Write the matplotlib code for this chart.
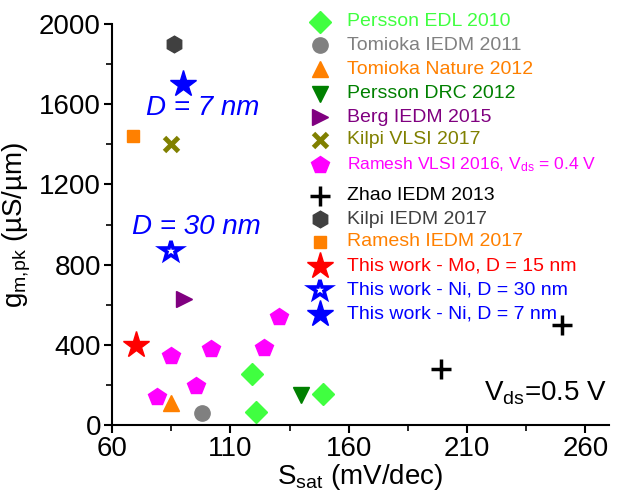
import matplotlib
matplotlib.use("Agg")
import matplotlib.pyplot as plt
from matplotlib.markers import MarkerStyle

plt.rcParams['font.family'] = ['Liberation Sans', 'DejaVu Sans']
plt.rcParams['mathtext.fontset'] = 'custom'
plt.rcParams['mathtext.rm'] = 'Liberation Sans'
plt.rcParams['mathtext.it'] = 'Liberation Sans:italic'

# ---- data ----
persson_edl_x = [119, 121, 149]
persson_edl_y = [255, 66, 155]
tomioka_iedm_x = [98]
tomioka_iedm_y = [60]
tomioka_nature_x = [85]
tomioka_nature_y = [108]
persson_drc_x = [140]
persson_drc_y = [150]
berg_x = [90.5]
berg_y = [630]
kilpi_vlsi_x = [85]
kilpi_vlsi_y = [1400]
ramesh_vlsi_x = [79, 85, 95.6, 102, 124.4, 130.5]
ramesh_vlsi_y = [138, 344, 196, 378, 383, 540]
zhao_x = [199, 250]
zhao_y = [280, 500]
kilpi_iedm_x = [86]
kilpi_iedm_y = [1900]
ramesh_iedm_x = [69]
ramesh_iedm_y = [1440]
mo15_x = [70]
mo15_y = [400]
ni30_x = [85]
ni30_y = [870]
ni7_x = [90]
ni7_y = [1700]

x_ticks = [60, 110, 160, 210, 260]
y_ticks = [0, 400, 800, 1200, 1600, 2000]

labels = ["Persson EDL 2010", "Tomioka IEDM 2011", "Tomioka Nature 2012",
          "Persson DRC 2012", "Berg IEDM 2015", "Kilpi VLSI 2017",
          r"Ramesh VLSI 2016, V$_{\rm ds}$ = 0.4 V", "Zhao IEDM 2013",
          "Kilpi IEDM 2017", "Ramesh IEDM 2017", "This work - Mo, D = 15 nm",
          "This work - Ni, D = 30 nm", "This work - Ni, D = 7 nm"]

star_m = MarkerStyle('*', joinstyle='miter')
styles = [
    dict(marker='D', color='#40ff40', ms=11),
    dict(marker='o', color='#808080', ms=11),
    dict(marker='^', color='#ff8000', ms=12),
    dict(marker='v', color='#008000', ms=12),
    dict(marker='>', color='#800080', ms=12),
    dict(marker='x', color='#808000', ms=10, mew=3.5),
    dict(marker='p', color='#ff00ff', ms=13),
    dict(marker='+', color='#000000', ms=14, mew=2.5),
    dict(marker='h', color='#404040', ms=12),
    dict(marker='s', color='#ff8000', ms=9),
    dict(marker='*', color='#ff0000', ms=20),
    dict(marker=star_m, color='#0000ff', ms=14.5, mfc='white', mew=2.6),
    dict(marker='*', color='#0000ff', ms=20),
]
series = [(persson_edl_x, persson_edl_y), (tomioka_iedm_x, tomioka_iedm_y),
          (tomioka_nature_x, tomioka_nature_y), (persson_drc_x, persson_drc_y),
          (berg_x, berg_y), (kilpi_vlsi_x, kilpi_vlsi_y),
          (ramesh_vlsi_x, ramesh_vlsi_y), (zhao_x, zhao_y),
          (kilpi_iedm_x, kilpi_iedm_y), (ramesh_iedm_x, ramesh_iedm_y),
          (mo15_x, mo15_y), (ni30_x, ni30_y), (ni7_x, ni7_y)]

W, H = 620, 493
fig = plt.figure(figsize=(6.2, 4.93), dpi=100)
ax = fig.add_axes([112 / W, 1 - 425 / H, (609 - 112) / W, (425 - 24) / H])

for (xs, ys), st in zip(series, styles):
    kw = dict(st)
    c = kw.pop('color')
    kw.setdefault('mfc', c)
    ax.plot(xs, ys, linestyle='none', mec=c, clip_on=False, zorder=3, **kw)

ax.set_xticks(x_ticks)
ax.set_xticks([t + 25 for t in x_ticks], minor=True)
ax.set_yticks(y_ticks)
ax.set_yticks([t + 200 for t in y_ticks[:-1]], minor=True)
ax.set_xlim(60, 270)
ax.set_ylim(0, 2000)
for s in ['top', 'right']:
    ax.spines[s].set_visible(False)
for s in ['left', 'bottom']:
    ax.spines[s].set_linewidth(1.5)
ax.tick_params(which='major', direction='out', length=6, width=1.5, labelsize=20, pad=2)
ax.tick_params(which='minor', direction='out', length=4, width=1.2)

ax.set_xlabel(r"S$_{\rm sat}$ (mV/dec)", fontsize=20, labelpad=0)
ax.set_ylabel(r"g$_{\rm m{,}pk}$ (µS/µm)", fontsize=20, labelpad=4)

fig.text(203 / W, 1 - 108 / H, "D = 7 nm", color='#0000ff', style='italic',
         fontsize=20, ha='center', va='center')
fig.text(196 / W, 1 - 227 / H, "D = 30 nm", color='#0000ff', style='italic',
         fontsize=20, ha='center', va='center')
fig.text(607 / W, 1 - 393 / H, r"V$_{\rm ds}$=0.5 V", color='black',
         fontsize=20, ha='right', va='center')

# legend (manual)
ys_leg = [22, 45, 69, 94, 117, 140, 165, 196, 219, 242, 266, 290, 314]
for i, (lab, st, yy) in enumerate(zip(labels, styles, ys_leg)):
    kw = dict(st)
    c = kw.pop('color')
    kw.setdefault('mfc', c)
    fig.add_artist(plt.Line2D([320 / W], [1 - yy / H], linestyle='none',
                              mec=c, transform=fig.transFigure, **kw))
    fs = 12.6 if i == 6 else 14
    fig.text(347 / W, 1 - yy / H, lab, color=c, fontsize=fs, ha='left', va='center')

fig.savefig("out.png", dpi=100)
